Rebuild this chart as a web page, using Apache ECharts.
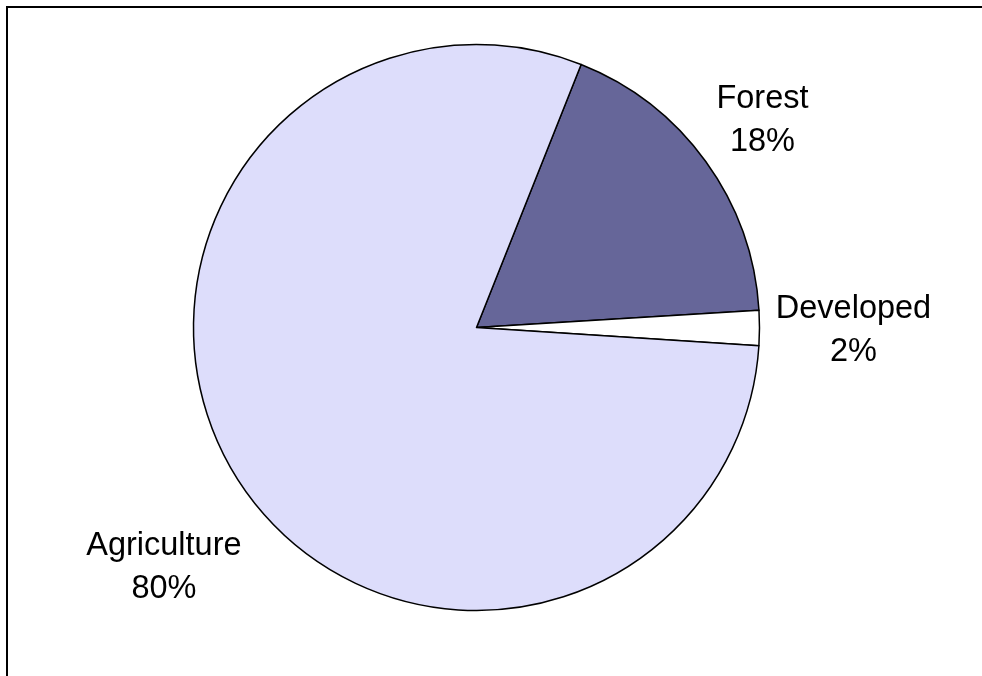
<!DOCTYPE html>
<html>
<head>
<meta charset="utf-8">
<script src="https://cdn.jsdelivr.net/npm/echarts@6/dist/echarts.min.js"></script>
<style>
html,body{margin:0;padding:0;background:#fff;}
#chart{width:982px;height:676px;}
</style>
</head>
<body>
<div id="chart"></div>
<script>
const categories = ['Forest', 'Developed', 'Agriculture'];
const values = [18, 2, 80];
const colors = ['#666699', '#FFFFFF', '#DDDDFB'];

const cx = 476.5, cy = 327.5, R = 283;
const startAngle = 68.3; // ECharts: degrees counter-clockwise from 3 o'clock
const labelDist = [353, 377, 394];
const labelAngleAdj = [0, -0.3, 5.2];

const total = values.reduce((a, b) => a + b, 0);
const midAngles = [];
let acc = 0;
values.forEach((v, i) => {
  const mid = startAngle - (acc + v / 2) / total * 360 + labelAngleAdj[i];
  midAngles.push(mid * Math.PI / 180);
  acc += v;
});

const chart = echarts.init(document.getElementById('chart'), null, {renderer: 'canvas'});
chart.setOption({
  animation: false,
  backgroundColor: '#fff',
  graphic: [{
    type: 'rect',
    shape: {x: 7, y: 7, width: 1100, height: 800},
    style: {fill: 'none', stroke: '#000', lineWidth: 2},
    silent: true,
    z: 100
  }],
  series: [{
    type: 'pie',
    center: [cx, cy],
    radius: R,
    startAngle: startAngle,
    clockwise: true,
    data: categories.map((c, i) => ({name: c, value: values[i], itemStyle: {color: colors[i]}})),
    itemStyle: {borderColor: '#000', borderWidth: 1.5},
    label: {
      show: true,
      position: 'outside',
      formatter: p => p.name + '\n' + Math.round(p.percent) + '%',
      fontFamily: 'Liberation Sans, Arial, sans-serif',
      fontSize: 32.5,
      lineHeight: 43,
      color: '#000',
      align: 'center'
    },
    labelLine: {show: false},
    labelLayout: function (params) {
      const i = params.dataIndex;
      const a = midAngles[i];
      return {
        x: cx + labelDist[i] * Math.cos(a),
        y: cy - labelDist[i] * Math.sin(a),
        align: 'center',
        verticalAlign: 'middle'
      };
    },
    emphasis: {disabled: true}
  }]
});
</script>
</body>
</html>
